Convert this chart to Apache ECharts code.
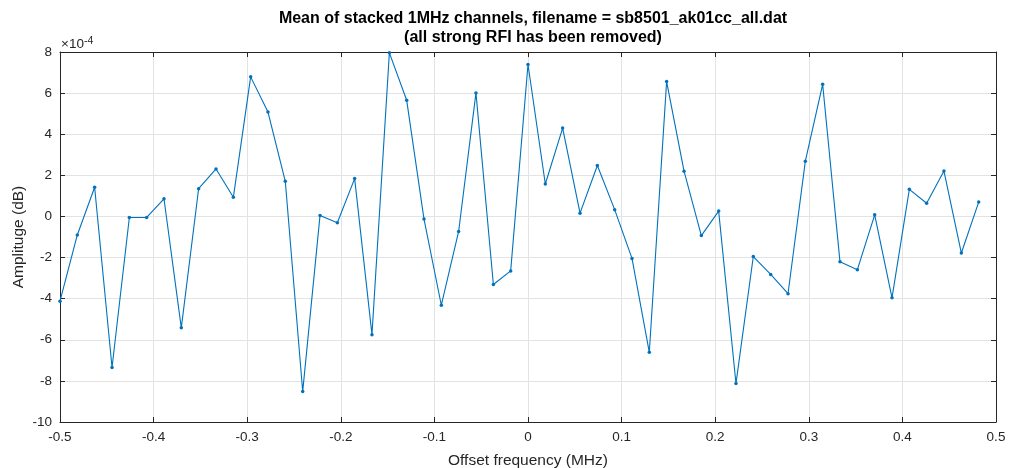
<!DOCTYPE html>
<html><head><meta charset="utf-8">
<script src="https://cdn.jsdelivr.net/npm/echarts@6/dist/echarts.min.js"></script>
<style>html,body{margin:0;padding:0;background:#fff}#c{width:1011px;height:468px}</style>
</head><body><div id="c"></div>
<script>
// x: offset frequency (MHz)
const freq = [-0.5,-0.4815,-0.4630,-0.4444,-0.4259,-0.4074,-0.3889,-0.3704,-0.3519,-0.3333,-0.3148,-0.2963,-0.2778,-0.2593,-0.2407,-0.2222,-0.2037,-0.1852,-0.1667,-0.1481,-0.1296,-0.1111,-0.0926,-0.0741,-0.0556,-0.0370,-0.0185,0,0.0185,0.0370,0.0556,0.0741,0.0926,0.1111,0.1296,0.1481,0.1667,0.1852,0.2037,0.2222,0.2407,0.2593,0.2778,0.2963,0.3148,0.3333,0.3519,0.3704,0.3889,0.4074,0.4259,0.4444,0.4630,0.4815];
// amplitude in units of 1e-4 dB
const amp = [-4.12,-0.90,1.42,-7.35,-0.05,-0.05,0.86,-5.42,1.35,2.31,0.93,6.79,5.08,1.71,-8.52,0.05,-0.31,1.84,-5.75,7.96,5.65,-0.13,-4.32,-0.73,6.01,-3.31,-2.65,7.39,1.58,4.30,0.16,2.48,0.33,-2.04,-6.61,6.56,2.20,-0.93,0.26,-8.13,-1.95,-2.82,-3.76,2.69,6.43,-2.20,-2.59,0.08,-3.96,1.32,0.64,2.21,-1.78,0.70];
const titleLines = ['Mean of stacked 1MHz channels, filename = sb8501_ak01cc_all.dat','(all strong RFI has been removed)'];
const xLabel = 'Offset frequency (MHz)';
const yLabel = 'Amplituge (dB)';

const FONT = "'Liberation Sans',Arial,Helvetica,sans-serif";
const AX = '#262626';
const GRID = '#e3e3e3';
const chart = echarts.init(document.getElementById('c'), null, {renderer:'canvas'});
const fmtX = v => { const r = Math.round(v*10)/10; return r === 0 ? '0' : String(r); };
const baseX = {type:'value', min:-0.5, max:0.5, interval:0.1};
const baseY = {type:'value', min:-10, max:8, interval:2};
chart.setOption({
  animation:false,
  backgroundColor:'#fff',
  title:{
    text: titleLines.join('\n'), left: 528, top: 4, textAlign:'center',
    textStyle:{fontFamily:FONT, fontSize:16, fontWeight:'bold', color:'#000', lineHeight:19}
  },
  grid:{left:60, right:15, top:52, bottom:46, containLabel:false, outerBoundsMode:'none'},
  xAxis:[
    Object.assign({}, baseX, {
      position:'bottom',
      name:xLabel, nameLocation:'middle', nameGap:31, nameMoveOverlap:false,
      nameTextStyle:{fontFamily:FONT, fontSize:15.5, color:AX},
      axisLine:{show:true, onZero:false, lineStyle:{color:AX, width:1}},
      axisTick:{show:true, inside:true, length:5, lineStyle:{color:AX}},
      axisLabel:{fontFamily:FONT, fontSize:13.5, color:AX, margin:8, formatter:fmtX},
      splitLine:{show:true, lineStyle:{color:GRID, width:1}}
    }),
    Object.assign({}, baseX, {
      position:'top',
      axisLine:{show:true, onZero:false, lineStyle:{color:AX, width:1}},
      axisTick:{show:true, inside:true, length:5, lineStyle:{color:AX}},
      axisLabel:{show:false}, splitLine:{show:false}
    })
  ],
  yAxis:[
    Object.assign({}, baseY, {
      position:'left',
      name:yLabel, nameLocation:'middle', nameGap:33, nameRotate:90, nameMoveOverlap:false,
      nameTextStyle:{fontFamily:FONT, fontSize:15.5, color:AX},
      axisLine:{show:true, onZero:false, lineStyle:{color:AX, width:1}},
      axisTick:{show:true, inside:true, length:5, lineStyle:{color:AX}},
      axisLabel:{fontFamily:FONT, fontSize:13.5, color:AX, margin:8},
      splitLine:{show:true, lineStyle:{color:GRID, width:1}}
    }),
    Object.assign({}, baseY, {
      position:'right',
      axisLine:{show:true, onZero:false, lineStyle:{color:AX, width:1}},
      axisTick:{show:true, inside:true, length:5, lineStyle:{color:AX}},
      axisLabel:{show:false}, splitLine:{show:false}
    })
  ],
  graphic:[{
    type:'text', left:61, top:36,
    style:{
      text:'{a|×10}{b|-4}',
      rich:{
        a:{fontFamily:FONT, fontSize:13.5, fill:AX},
        b:{fontFamily:FONT, fontSize:10.5, fill:AX, verticalAlign:'top', padding:[0,0,6,0]}
      }
    }
  }],
  series:[{
    type:'line', xAxisIndex:0, yAxisIndex:0,
    data: freq.map((x,i)=>[x, amp[i]]),
    showSymbol:true, symbol:'circle', symbolSize:3.5,
    lineStyle:{color:'#0072BD', width:1.1},
    itemStyle:{color:'#0072BD'},
    clip:false
  }]
});
</script></body></html>
